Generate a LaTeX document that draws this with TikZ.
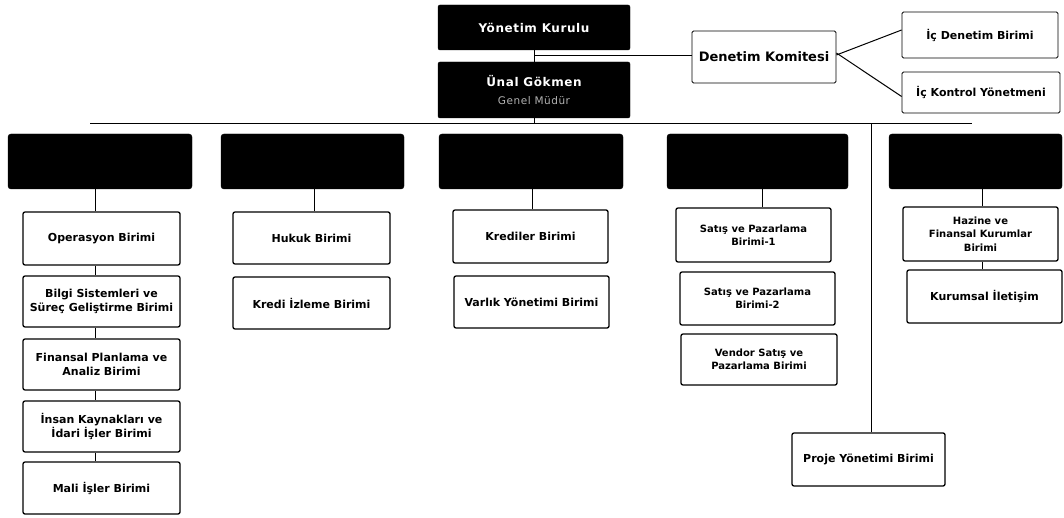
\documentclass[tikz,border=0pt]{standalone}
\usepackage{fontspec}
\setmainfont{DejaVu Sans}
\usetikzlibrary{calc}
\begin{document}
\begin{tikzpicture}[x=1pt,y=-1pt,
  topbox/.style={draw=black,fill=black,rounded corners=2pt,inner sep=0pt,text=white,align=center,
    font=\fontsize{12}{20}\selectfont\bfseries\addfontfeatures{LetterSpace=5}},
  smallbox/.style={draw=black,line width=0.8pt,fill=white,rounded corners=1.5pt,inner sep=0pt,align=center,
    font=\fontsize{11}{13.3}\selectfont\bfseries},
  headbox/.style={draw=black,fill=black,rounded corners=3pt,inner sep=0pt,minimum height=55pt},
  childbox/.style={draw=black,line width=1.3pt,fill=white,rounded corners=2pt,inner sep=0pt,align=center,
    font=\fontsize{11}{13.3}\selectfont\bfseries},
  smallchild/.style={childbox,font=\fontsize{10}{13.3}\selectfont\bfseries},
  conn/.style={draw=black,line width=1pt}
]
\useasboundingbox (0,0) rectangle (1064,518);

% top
\node[topbox,minimum width=192pt,minimum height=45pt] (yk) at (534,27.5) {Yönetim Kurulu};
\node[topbox,minimum width=192pt,minimum height=56pt] (unal) at (534,90)
  {Ünal Gökmen\\[-2pt]{\fontsize{10.5}{12}\selectfont\mdseries\color{black!30}Genel Müdür}};
\node[smallbox,minimum width=144pt,minimum height=52pt,font=\fontsize{13}{15}\selectfont\bfseries] (dk) at (764,57) {Denetim Komitesi};
\node[smallbox,minimum width=156pt,minimum height=46pt] (icd) at (980,35) {İç Denetim Birimi};
\node[smallbox,minimum width=158pt,minimum height=41pt] (ick) at (981,92.5) {İç Kontrol Yönetmeni};

\coordinate (mid) at (534,56);
\draw[conn] (yk.south) -- (unal.north);
\draw[conn] (mid) -- (mid -| dk.west);
\draw[conn] ([yshift=2pt]dk.east) -- ([yshift=5pt]icd.west);
\draw[conn] ([yshift=4pt]dk.east) -- ([yshift=-4pt]ick.west);

% main line
\coordinate (mainL) at (90,124);
\coordinate (mainR) at (972,124);
\draw[conn] (mainL) -- (mainR);
\draw[conn] (unal.south) -- (unal.south |- mainL);

% headers
\node[headbox,minimum width=184pt] (h1) at (100,161.5) {};
\node[headbox,minimum width=183pt] (h2) at (312.5,161.5) {};
\node[headbox,minimum width=184pt] (h3) at (531,161.5) {};
\node[headbox,minimum width=181pt] (h4) at (757.5,161.5) {};
\node[headbox,minimum width=173pt] (h5) at (975.5,161.5) {};

% column 1
\node[childbox,minimum width=157pt,minimum height=53pt] (op) at (101.5,238.5) {Operasyon Birimi};
\node[childbox,minimum width=157pt,minimum height=51pt] (bilgi) at (101.5,301.5) {Bilgi Sistemleri ve\\Süreç Geliştirme Birimi};
\node[childbox,minimum width=157pt,minimum height=51pt] (fin) at (101.5,364.5) {Finansal Planlama ve\\Analiz Birimi};
\node[childbox,minimum width=157pt,minimum height=51pt] (insan) at (101.5,426.5) {İnsan Kaynakları ve\\İdari İşler Birimi};
\node[childbox,minimum width=157pt,minimum height=52pt] (mali) at (101.5,488) {Mali İşler Birimi};
\draw[conn] ([xshift=-6pt]op.north) -- ([xshift=-6pt]op.north |- h1.south);
\draw[conn] ([xshift=-6pt]op.south) -- ([xshift=-6pt]bilgi.north);
\draw[conn] ([xshift=-6pt]bilgi.south) -- ([xshift=-6pt]fin.north);
\draw[conn] ([xshift=-6pt]fin.south) -- ([xshift=-6pt]insan.north);
\draw[conn] ([xshift=-6pt]insan.south) -- ([xshift=-6pt]mali.north);

% column 2
\node[childbox,minimum width=157pt,minimum height=52pt] (hukuk) at (311.5,238) {Hukuk Birimi};
\node[childbox,minimum width=157pt,minimum height=52pt] (kizl) at (311.5,303) {Kredi İzleme Birimi};
\draw[conn] ([xshift=3pt]hukuk.north) -- ([xshift=3pt]hukuk.north |- h2.south);

% column 3
\node[childbox,minimum width=155pt,minimum height=53pt] (kred) at (530.5,236.5) {Krediler Birimi};
\node[childbox,minimum width=155pt,minimum height=52pt] (varlik) at (531.5,302) {Varlık Yönetimi Birimi};
\draw[conn] ([xshift=1.5pt]kred.north) -- ([xshift=1.5pt]kred.north |- h3.south);

% column 4
\node[smallchild,minimum width=155pt,minimum height=54pt] (sp1) at (753.5,235) {Satış ve Pazarlama\\Birimi-1};
\node[smallchild,minimum width=155pt,minimum height=53pt] (sp2) at (757.5,298.5) {Satış ve Pazarlama\\Birimi-2};
\node[smallchild,minimum width=156pt,minimum height=51pt] (vendor) at (759,359.5) {Vendor Satış ve\\Pazarlama Birimi};
\draw[conn] ([xshift=9pt]sp1.north) -- ([xshift=9pt]sp1.north |- h4.south);

% column 5
\node[smallchild,minimum width=155pt,minimum height=54pt] (hazine) at (980.5,234) {Hazine ve\\Finansal Kurumlar\\Birimi};
\node[childbox,minimum width=155pt,minimum height=53pt] (kurum) at (984.5,296.5) {Kurumsal İletişim};
\draw[conn] ([xshift=1.5pt]hazine.north) -- ([xshift=1.5pt]hazine.north |- h5.south);
\draw[conn] ([xshift=1.5pt]hazine.south) -- ([xshift=1.5pt]hazine.south |- kurum.north);

% proje
\node[childbox,minimum width=153pt,minimum height=53pt] (proje) at (868.5,459.5) {Proje Yönetimi Birimi};
\draw[conn] ([xshift=2.5pt]proje.north) -- ([xshift=2.5pt]proje.north |- mainL);
\end{tikzpicture}
\end{document}
